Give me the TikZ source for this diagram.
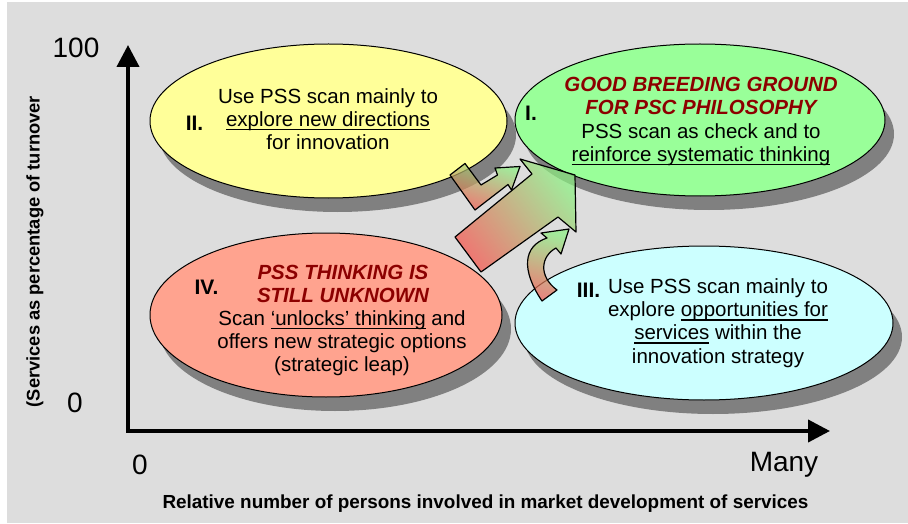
\documentclass[tikz,border=0pt]{standalone}
\usepackage{fontspec}
\setmainfont{Liberation Sans}
\usetikzlibrary{shapes.geometric,arrows.meta,shadows}

\definecolor{bggray}{RGB}{221,221,221}
\definecolor{shadowgray}{RGB}{128,128,128}
\definecolor{ovyellow}{RGB}{255,255,153}
\definecolor{ovgreen}{RGB}{153,255,153}
\definecolor{ovsalmon}{RGB}{255,163,143}
\definecolor{ovcyan}{RGB}{204,255,255}
\definecolor{headred}{RGB}{140,0,0}
\definecolor{arrred}{RGB}{243,85,75}
\definecolor{arrgreen}{RGB}{140,240,130}

% underline with a fixed offset below the baseline
\newcommand\ulin[1]{\leavevmode\setbox0=\hbox{#1}\rlap{\rule[-4pt]{\wd0}{1.8pt}}\box0\relax}
\newcommand\headtxt[1]{\textcolor{headred}{\bfseries\itshape #1}}

\tikzset{
  oval/.style={ellipse, draw=black, line width=1pt, inner sep=0pt,
    drop shadow={shadow xshift=9pt, shadow yshift=-14pt, fill=shadowgray, opacity=1}},
  body/.style={align=center, inner sep=0pt, font=\fontsize{20.5}{23.3}\selectfont},
  roman/.style={inner sep=0pt, font=\fontsize{21}{24}\selectfont\bfseries},
  axisnum/.style={inner sep=0pt, font=\fontsize{28}{32}\selectfont},
  axislabel/.style={inner sep=0pt, font=\bfseries},
  blockarrow/.style={draw=black, line width=1.2pt, line join=round, fill opacity=0.72},
}

\begin{document}
\begin{tikzpicture}[x=1pt, y=-1pt]
\useasboundingbox (0,0) rectangle (908,524);
\fill[bggray] (7,2) rectangle (908,523);

% axes
\coordinate (ytop) at (128,45);
\coordinate (origin) at (128,431);
\coordinate (xend) at (830,431);
\draw[line width=4pt, line join=miter,
  {Triangle[length=22pt,width=22pt]}-{Triangle[length=22pt,width=22pt]}]
  (ytop) -- (origin) -- (xend);

% quadrant ovals
\node[oval, fill=ovyellow, minimum width=357pt, minimum height=154pt] (qII) at (328.5,121) {};
\node[oval, fill=ovgreen,  minimum width=370pt, minimum height=152pt] (qI)  at (700,120) {};
\node[oval, fill=ovsalmon, minimum width=352pt, minimum height=164pt] (qIV) at (326,315) {};
\node[oval, fill=ovcyan,   minimum width=378pt, minimum height=154pt] (qIII) at (704,323) {};

% quadrant texts
\node[roman] (nII) at (194.5,123) {II.};
\node[body] (tII) at (328,119) {Use PSS scan mainly to\\\ulin{explore new directions}\\for innovation};

\node[roman] (nI) at (531,113) {I.};
\node[body] (tI) at (701,121.5) {\headtxt{GOOD BREEDING GROUND}\\\headtxt{FOR PSC PHILOSOPHY}\\PSS scan as check and to\\\ulin{reinforce systematic thinking}};

\node[roman] (nIV) at (206.5,287) {IV.};
\node[body] (hIV) at (343,284) {\headtxt{PSS THINKING IS}\\\headtxt{STILL UNKNOWN}};
\node[body] (tIV) at (342,343.3) {Scan \ulin{‘unlocks’ thinking} and\\offers new strategic options\\(strategic leap)};

\node[roman] (nIII) at (588.5,290) {III.};
\node[body] (tIII) at (718,323) {Use PSS scan mainly to\\explore \ulin{opportunities for}\\\ulin{services} within the\\innovation strategy};

% block arrows towards quadrant I
\shadedraw[blockarrow, bottom color=arrred, top color=arrgreen, shading angle=-52]
  (455,237) -- (532,174) -- (520,159) -- (575,175) -- (576,232) -- (558,217) -- (481,272) -- cycle;
\shadedraw[blockarrow, bottom color=arrred, top color=arrgreen, shading angle=-20]
  (450,175) -- (465,163.5) -- (481,185) -- (497.5,175) -- (495,168) -- (520,166.5)
  -- (511.5,190) -- (508,184.5) -- (475,210) -- cycle;
\shadedraw[blockarrow, bottom color=arrred, top color=arrgreen, shading angle=-15]
  (542,301) .. controls (521,270) and (523,246) .. (547,238) -- (541,233) -- (569,229)
  -- (561,254) -- (556,248) .. controls (541,256) and (538,276) .. (557,290) -- cycle;

% axis values and titles
\node[axisnum] (y100) at (76,48) {100};
\node[axisnum] (y0) at (75,403) {0};
\node[axisnum] (x0) at (140,465) {0};
\node[axisnum] (xmany) at (784,465) {Many};
\node[axislabel, font=\fontsize{18.9}{21}\selectfont\bfseries] (xtitle) at (485.5,504) {Relative number of persons involved in market development of services};
\node[axislabel, font=\fontsize{18.3}{21}\selectfont\bfseries, rotate=90] (ytitle) at (35,251.5) {(Services as percentage of turnover};
\end{tikzpicture}
\end{document}
